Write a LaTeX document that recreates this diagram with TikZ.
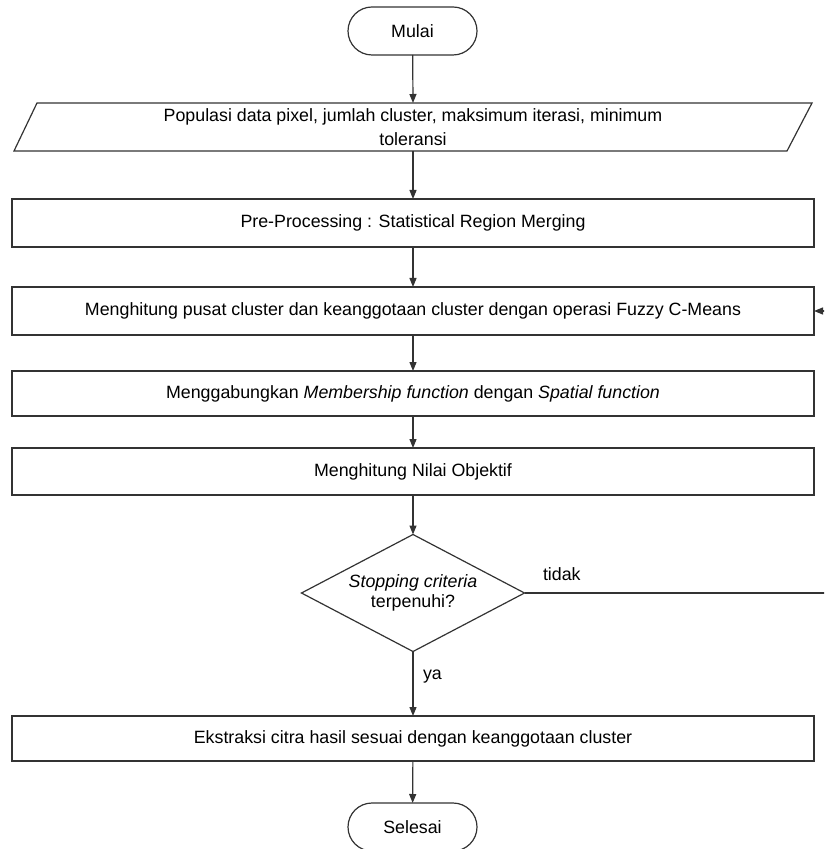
\documentclass[tikz,border=0pt]{standalone}
\usepackage{fontspec}
\setmainfont{Liberation Sans}
\usetikzlibrary{arrows.meta,shapes.misc,calc}
\begin{document}
\begin{tikzpicture}[x=0.5pt,y=-0.5pt,
  every node/.style={font=\fontsize{8.9}{10.5}\selectfont, inner sep=0pt, outer sep=0pt},
  line/.style={draw=black!80, line width=0.6pt},
  arr/.style={line, -{Triangle[length=4.5pt,width=3.5pt]}},
  box/.style={line, rectangle, minimum width=401pt, minimum height=24pt},
  term/.style={line, rounded rectangle, minimum width=64.5pt, minimum height=24pt}]
\useasboundingbox (0,0) rectangle (824,849);
\clip (0,0) rectangle (824,849);

\node[term] (mulai) at (412.5,31) {Mulai};
\node[minimum width=399pt, minimum height=24pt, align=center,
      font=\fontsize{8.9}{12}\selectfont] (in) at (413,127)
  {Populasi data pixel, jumlah cluster, maksimum iterasi, minimum\\toleransi};
\draw[line] (in.south west) -- ($(in.north west)+(23,0)$) -- (in.north east)
  -- ($(in.south east)+(-25,0)$) -- cycle;

\node[box] (r1) at (413,223) {Pre-Processing : Statistical Region Merging};
\node[box] (r2) at (413,311) {Menghitung pusat cluster dan keanggotaan cluster dengan operasi Fuzzy C-Means};
\node[box, minimum height=22.5pt] (r3) at (413,393.5) {Menggabungkan \textit{Membership function} dengan \textit{Spatial function}};
\node[box, minimum height=23.5pt] (r4) at (413,471.5) {Menghitung Nilai Objektif};

\node[minimum width=111.5pt, minimum height=58.5pt, align=center,
      font=\fontsize{8.9}{10.3}\selectfont] (d) at (413,593)
  {\textit{Stopping criteria}\\terpenuhi?};
\draw[line] (d.north) -- (d.east) -- (d.south) -- (d.west) -- cycle;

\node[box, minimum height=22.5pt] (r5) at (413,738.5) {Ekstraksi citra hasil sesuai dengan keanggotaan cluster};
\node[term] (selesai) at (412.5,827) {Selesai};

\draw[arr] (mulai) -- (in.north);
\draw[arr] (in.south) -- (r1);
\draw[arr] (r1) -- (r2);
\draw[arr] (r2) -- (r3);
\draw[arr] (r3) -- (r4);
\draw[arr] (r4) -- (d.north);
\draw[arr] (d.south) -- (r5);
\draw[arr] (r5) -- (selesai);
\draw[arr] (d.east) -| ($(r2.east)+(16,0)$) -- (r2.east);

\node[anchor=west] (lt) at (543,574) {tidak};
\node[anchor=west] (ly) at (423,677) {ya};
\end{tikzpicture}
\end{document}
